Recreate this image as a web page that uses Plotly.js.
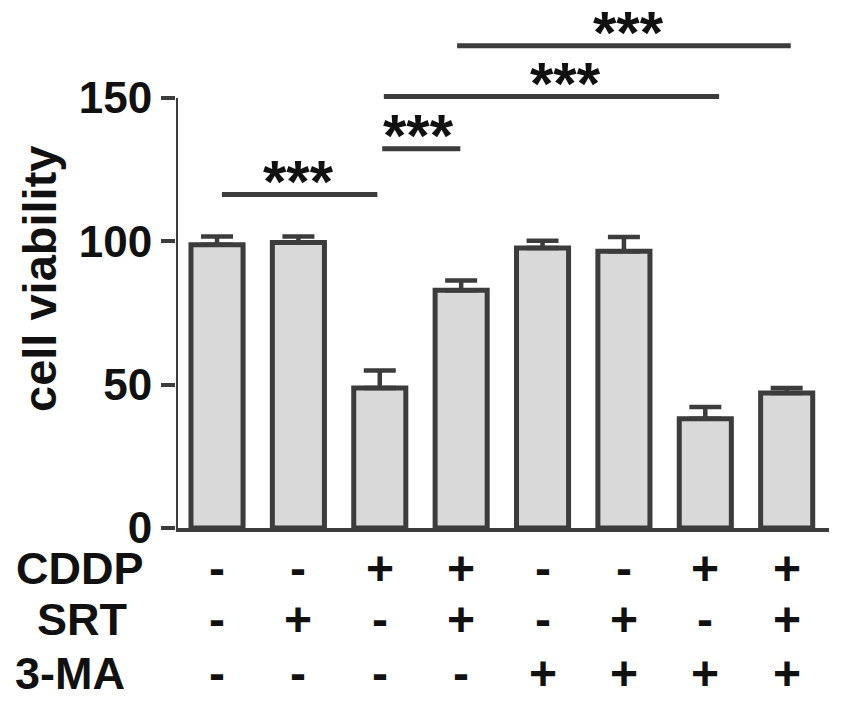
<!DOCTYPE html>
<html>
<head>
<meta charset="utf-8">
<script src="https://cdn.plot.ly/plotly-3.0.1.min.js"></script>
<style>
  body { margin: 0; background: #fff; }
  #chart { width: 850px; height: 725px; }
</style>
</head>
<body>
<div id="chart"></div>
<script>
// group positions along the x axis, one per bar
const groups = [0, 1, 2, 3, 4, 5, 6, 7];
const viability = [98.8, 99.6, 48.8, 82.9, 97.7, 96.5, 38.1, 47.1];
const viabilityErr = [2.9, 2.1, 6.1, 3.4, 2.5, 5.0, 4.1, 1.7];

// treatment table under the bars
const rowNames = ['CDDP', 'SRT', '3-MA'];
const cddp = ['-', '-', '+', '+', '-', '-', '+', '+'];
const srt = ['-', '+', '-', '+', '-', '+', '-', '+'];
const threeMA = ['-', '-', '-', '-', '+', '+', '+', '+'];

// significance brackets
const sigFrom = [0.06, 2.03, 2.05, 2.95];
const sigTo = [1.97, 2.99, 6.17, 7.05];
const sigLevel = [116.3, 132.3, 150.5, 168.2];
const sigTextX = [1.0, 2.48, 4.28, 5.06];
const sigText = ['***', '***', '***', '***'];

const yTicks = [0, 50, 100, 150];

const ink = '#3c3c3c';
const fontFam = 'Liberation Sans, Arial, sans-serif';

const bars = {
  x: groups,
  y: viability,
  type: 'bar',
  width: 0.64,
  marker: {color: '#d9d9d9', line: {color: ink, width: 5}},
  error_y: {
    type: 'data',
    symmetric: false,
    array: viabilityErr,
    arrayminus: viabilityErr.map(() => 0),
    color: ink,
    thickness: 4.5,
    width: 16
  },
  hoverinfo: 'skip'
};

// y axis line only up to the last tick
const yLine = {
  x: [-0.504, -0.504],
  y: [0, yTicks[yTicks.length - 1]],
  type: 'scatter',
  mode: 'lines',
  line: {color: ink, width: 4},
  cliponaxis: false,
  hoverinfo: 'skip'
};

const shapes = sigFrom.map((x0, i) => ({
  type: 'line',
  xref: 'x', yref: 'y',
  x0: x0, x1: sigTo[i],
  y0: sigLevel[i], y1: sigLevel[i],
  line: {color: ink, width: 5}
}));

const annotations = [];

sigText.forEach((t, i) => {
  annotations.push({
    xref: 'x', yref: 'y',
    x: sigTextX[i], y: sigLevel[i],
    text: t, showarrow: false,
    xanchor: 'center', yanchor: 'bottom',
    yshift: -22,
    font: {family: fontFam, size: 60, weight: 'bold', color: '#111'}
  });
});

const rows = [cddp, srt, threeMA];
const rowShift = [-40, -91, -145];
const rowLabelX = [80, 82, 70];

rows.forEach((row, r) => {
  annotations.push({
    xref: 'paper', yref: 'paper',
    x: 0, y: 0,
    xshift: rowLabelX[r] - 176,
    yshift: rowShift[r],
    text: rowNames[r], showarrow: false,
    xanchor: 'center', yanchor: 'middle',
    font: {family: fontFam, size: 45, weight: 'bold', color: '#111'}
  });
  row.forEach((s, i) => {
    annotations.push({
      xref: 'x', yref: 'paper',
      x: groups[i], y: 0,
      yshift: rowShift[r],
      text: s, showarrow: false,
      xanchor: 'center', yanchor: 'middle',
      font: {family: fontFam, size: 48, weight: 'bold', color: '#111'}
    });
  });
});

annotations.push({
  xref: 'paper', yref: 'paper',
  x: 0, y: 0.5,
  xshift: -137,
  yshift: -8,
  text: 'cell viability', showarrow: false,
  textangle: -90,
  xanchor: 'center', yanchor: 'middle',
  font: {family: fontFam, size: 47, weight: 'bold', color: '#111'}
});

const layout = {
  width: 850,
  height: 725,
  margin: {l: 176, r: 21, t: 14, b: 197},
  paper_bgcolor: '#fff',
  plot_bgcolor: '#fff',
  showlegend: false,
  xaxis: {
    range: [-0.504, 7.52],
    showgrid: false,
    zeroline: false,
    showticklabels: false,
    ticks: '',
    showline: true,
    linecolor: ink,
    linewidth: 4
  },
  yaxis: {
    range: [0, 179.3],
    showgrid: false,
    zeroline: false,
    showline: false,
    tickvals: yTicks,
    ticks: 'outside',
    ticklen: 14,
    tickwidth: 4,
    tickcolor: ink,
    tickfont: {family: fontFam, size: 44, weight: 'bold', color: '#111'}
  },
  shapes: shapes,
  annotations: annotations
};

Plotly.newPlot('chart', [bars, yLine], layout, {staticPlot: true});
</script>
</body>
</html>
